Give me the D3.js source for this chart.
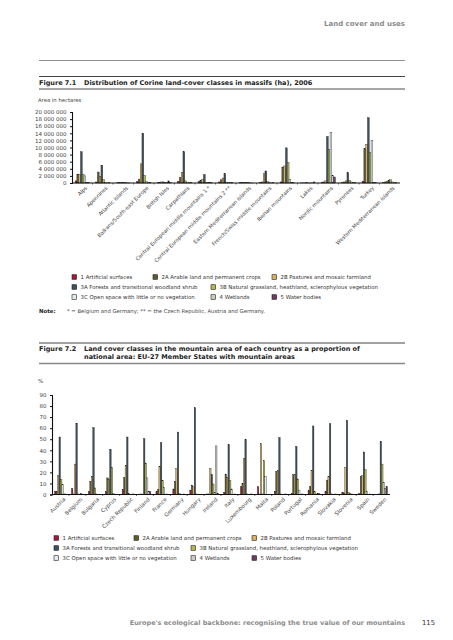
<!DOCTYPE html>
<html><head><meta charset="utf-8">
<script src="https://cdn.jsdelivr.net/npm/d3@7/dist/d3.min.js"></script>
<style>
html,body{margin:0;padding:0;background:#fff;}
svg{display:block;font-family:"DejaVu Sans",Verdana,sans-serif;}
</style></head>
<body>
<svg id="c" width="453" height="640" viewBox="0 0 453 640"></svg>
<script>
// ---------- DATA ----------
const seriesNames = ["1 Artificial surfaces","2A Arable land and permanent crops","2B Pastures and mosaic farmland",
  "3A Forests and transitional woodland shrub","3B Natural grassland, heathland, sclerophylous vegetation",
  "3C Open space with little or no vegetation","4 Wetlands","5 Water bodies"];
const seriesColors = ["#a3173f","#5c5b2c","#d9b163","#3e505d","#b4b84c","#e2ebf0","#c9ccc0","#6e3b63"];

const massifs = ["Alps","Apennines","Atlantic islands","Balkans/South-east Europe","British Isles","Carpathians",
  "Central European middle mountains 1 *","Central European middle mountains 2 **","Eastern Mediterranean islands",
  "French/Swiss middle mountains","Iberian mountains","Lakes","Nordic mountains","Pyrenees","Turkey","Western Mediterranean islands"];
// values in hectares
const mArtificial = [600000,300000,20000,500000,50000,500000,400000,300000,50000,200000,300000,20000,150000,100000,500000,100000];
const mArable     = [2500000,3100000,100000,1100000,100000,1600000,700000,900000,150000,300000,4500000,20000,300000,300000,9700000,300000];
const mPastures   = [2500000,1900000,200000,5400000,300000,3000000,1000000,1400000,200000,2600000,4800000,30000,600000,600000,10900000,500000];
const mForests    = [8800000,5000000,200000,14000000,300000,8800000,2400000,2600000,200000,3400000,9900000,50000,13100000,2900000,18400000,800000];
const mNatural    = [2500000,1000000,200000,2200000,200000,600000,200000,200000,200000,400000,5800000,20000,9400000,800000,8600000,900000];
const mOpen       = [2000000,200000,50000,500000,100000,100000,50000,50000,100000,100000,900000,10000,14300000,300000,12000000,300000];
const mWetlands   = [100000,20000,20000,100000,600000,50000,50000,50000,10000,20000,50000,10000,2100000,50000,200000,50000];
const mWater      = [200000,50000,20000,200000,100000,100000,50000,100000,10000,50000,100000,300000,1700000,50000,200000,50000];
const massifTicks = [0,2000000,4000000,6000000,8000000,10000000,12000000,14000000,16000000,18000000,20000000];

const countries = ["Austria","Belgium","Bulgaria","Cyprus","Czech Republic","Finland","France","Germany","Hungary","Ireland",
  "Italy","Luxembourg","Malta","Poland","Portugal","Romania","Slovakia","Slovenia","Spain","Sweden"];
const cArtificial = [3,5.5,2.5,2.5,4.5,0.3,2.5,5,4,0.5,2,7,7,3,1,4,3,2,1,0.3];
const cArable     = [3,0.5,12,15,15.5,0.5,4.5,12,8.5,0.5,18.5,10,0.5,21,18,7.5,13,1.5,16.5,0.3];
const cPastures   = [17,27.5,16.5,14,26.5,0.3,25.5,23.5,7,23.5,15.5,32.5,46,22,18,22,16.5,24.5,17,0.5];
const cForests    = [52,64.5,60.5,41,52,50.5,47,56.5,78.5,18,45,49.5,0.5,51.5,43.5,62,64,67,38.5,48];
const cNatural    = [13.5,0.5,6,24.5,0.7,28.5,12.5,0.8,0.5,9.5,12.5,0.5,30.5,0.5,14,3,0.5,2,22.5,27.5];
const cOpen       = [9,0.2,0.5,1,0.2,15,6.5,0.3,0.3,2,5,0.2,16,0.3,4,0.3,0.3,1,3,11];
const cWetlands   = [0.5,1.2,0.2,0.3,0.3,2.5,0.3,0.2,0.2,44,0.3,0.2,0,0.3,0.3,1,0.3,0.5,0.3,5.5];
const cWater      = [0.5,0.4,0.3,0.3,0.5,2.5,0.5,0.5,0.3,1,0.5,0.5,0,0.5,0.5,0.7,0.5,0.3,0.5,7];
const pctTicks = [0,10,20,30,40,50,60,70,80,90];

// ---------- DRAW ----------
const svg = d3.select("#c");
const fmt = v => d3.format(",")(v).replace(/,/g," ");

function txt(x,y,s,opt={}){
  return svg.append("text").attr("x",x).attr("y",y).text(s)
    .attr("font-size",opt.size||5.5).attr("font-weight",opt.weight||"normal")
    .attr("fill",opt.fill||"#333").attr("text-anchor",opt.anchor||"start");
}
function hline(y,w,col,x1=39,x2=405){
  svg.append("line").attr("x1",x1).attr("x2",x2).attr("y1",y).attr("y2",y).attr("stroke",col).attr("stroke-width",w);
}

// page header
txt(405,26,"Land cover and uses",{size:7,weight:"bold",fill:"#8c8c8c",anchor:"end"});
hline(60.5,0.8,"#777");

// Figure 7.1 title
hline(76.5,1.2,"#444");
txt(39,85,"Figure 7.1",{size:6.5,weight:"bold",fill:"#222"});
txt(84,85,"Distribution of Corine land-cover classes in massifs (ha), 2006",{size:6.5,weight:"bold",fill:"#222"});
hline(89,1.6,"#888");
txt(38,102,"Area in hectares",{size:5.3,fill:"#444"});

function barChart(cfg){
  const {cats,series,ticks,x0,x1,yTop,yBottom,maxV,tickFmt,labelSize} = cfg;
  const g = svg.append("g");
  const x = d3.scaleBand().domain(cats).range([x0,x1]).paddingInner(0.3).paddingOuter(0.15);
  const xs = d3.scaleBand().domain(d3.range(series.length)).range([0,x.bandwidth()]).padding(0);
  const y = d3.scaleLinear().domain([0,maxV]).range([yBottom,yTop]);
  // bars
  series.forEach((vals,si)=>{
    g.append("g").selectAll("rect").data(vals).join("rect")
      .attr("x",(d,i)=>x(cats[i])+xs(si))
      .attr("width",xs.bandwidth())
      .attr("y",d=>y(d))
      .attr("height",d=>Math.max(0,y(0)-y(d)))
      .attr("fill",seriesColors[si])
      .attr("stroke","#1a1a1a").attr("stroke-width",0.35);
  });
  // y axis
  const ya = g.append("g").attr("transform",`translate(${x0},0)`)
    .call(d3.axisLeft(y).tickValues(ticks).tickSize(2).tickFormat(tickFmt));
  ya.select(".domain").attr("stroke","#111").attr("stroke-width",1.1);
  ya.selectAll("line").attr("stroke","#111");
  ya.selectAll("text").attr("font-size",5.5).attr("fill","#444").attr("font-family","DejaVu Sans").attr("dx","-0.5");
  // x axis
  const xa = g.append("g").attr("transform",`translate(0,${yBottom})`)
    .call(d3.axisBottom(x).tickSize(0).tickPadding(3));
  xa.select(".domain").attr("stroke","#111").attr("stroke-width",1).attr("d",`M${x0},0H${x1}`);
  xa.selectAll("text").attr("font-size",labelSize).attr("fill","#444").attr("font-family","DejaVu Sans")
    .attr("text-anchor","end").attr("dy","0.3em")
    .attr("transform",function(){ return "translate(2,2) rotate(-45)"; });
  // small tick marks between categories
  g.append("g").selectAll("line").data(cats.slice(1)).join("line")
    .attr("x1",d=>x(d)-x.step()*x.paddingInner()/2).attr("x2",d=>x(d)-x.step()*x.paddingInner()/2)
    .attr("y1",yBottom).attr("y2",yBottom+1.5).attr("stroke","#111").attr("stroke-width",0.6);
  return g;
}

barChart({cats:massifs,
  series:[mArtificial,mArable,mPastures,mForests,mNatural,mOpen,mWetlands,mWater],
  ticks:massifTicks,x0:72,x1:400,yTop:112,yBottom:183,maxV:20000000,tickFmt:fmt,labelSize:5.2});

function legend(pos){
  pos.forEach((p,i)=>{
    svg.append("rect").attr("x",p[0]).attr("y",p[1]-4.3).attr("width",4.6).attr("height",4.6)
      .attr("fill",seriesColors[i]).attr("stroke","#222").attr("stroke-width",0.6);
    txt(p[0]+8.5,p[1],seriesNames[i],{size:5.4,fill:"#333"});
  });
}
legend([[72,279],[153,279],[272,279],[72,289],[211,289],[72,299],[211,299],[272,299]]);

// note
txt(39,313,"Note:",{size:5.4,weight:"bold",fill:"#222"});
txt(67,313,"* = Belgium and Germany; ** = the Czech Republic, Austria and Germany.",{size:5.3,fill:"#444"});

// Figure 7.2 title
hline(343,1.2,"#444");
txt(39,351,"Figure 7.2",{size:6.5,weight:"bold",fill:"#222"});
txt(84,351,"Land cover classes in the mountain area of each country as a proportion of",{size:6.5,weight:"bold",fill:"#222"});
txt(84,358.5,"national area: EU-27 Member States with mountain areas",{size:6.5,weight:"bold",fill:"#222"});
hline(363.5,1.6,"#888");
txt(38,383,"%",{size:5.5,fill:"#444"});

barChart({cats:countries,
  series:[cArtificial,cArable,cPastures,cForests,cNatural,cOpen,cWetlands,cWater],
  ticks:pctTicks,x0:52,x1:390,yTop:395,yBottom:494.5,maxV:90,tickFmt:d=>d,labelSize:5.4});

legend([[54,540],[134,540],[252,540],[54,550],[191,550],[54,560],[191,560],[252,560]]);

// footer
txt(405,625,"Europe's ecological backbone: recognising the true value of our mountains",{size:6.5,weight:"bold",fill:"#8c8c8c",anchor:"end"});
txt(422,625,"115",{size:6.8,fill:"#333"});
</script>
</body></html>
